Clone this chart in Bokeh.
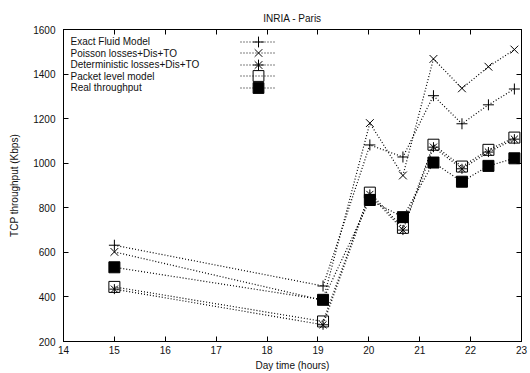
from bokeh.plotting import figure
from bokeh.models import Legend, LegendItem, Label, LinearAxis, FixedTicker
from bokeh.embed import file_html
from bokeh.resources import INLINE

# ---- data ----
hours = [15.0, 19.1, 20.02, 20.67, 21.27, 21.83, 22.35, 22.86]
exact_fluid = [632, 449, 1082, 1028, 1303, 1177, 1262, 1333]
poisson = [602, 385, 1180, 945, 1468, 1336, 1433, 1510]
deterministic = [435, 275, 860, 700, 1072, 975, 1050, 1108]
packet_level = [445, 290, 868, 710, 1083, 985, 1060, 1115]
real_throughput = [533, 387, 835, 758, 1003, 917, 988, 1022]

series_names = ["Exact Fluid Model", "Poisson losses+Dis+TO",
                "Deterministic losses+Dis+TO", "Packet level model", "Real throughput"]
x_ticks = list(range(14, 24))
y_ticks = list(range(200, 1601, 200))

FONT = "Liberation Sans"
FH = 312

p = figure(frame_width=458, frame_height=FH, x_range=(14, 23), y_range=(200, 1600),
           output_backend="svg", toolbar_location=None,
           min_border_left=63, min_border_right=9, min_border_top=29, min_border_bottom=32,
           title="INRIA - Paris")
p.title.text_font = FONT
p.title.text_font_size = "10px"
p.title.text_font_style = "normal"
p.title.align = "center"
p.title.text_color = "#111111"
p.title.standoff = 11

p.xgrid.visible = False
p.ygrid.visible = False
p.outline_line_color = "black"
p.outline_line_width = 1
p.background_fill_color = "white"

for ax in (p.xaxis[0], p.yaxis[0]):
    ax.major_tick_in = 5
    ax.major_tick_out = 0
    ax.minor_tick_line_color = None
    ax.major_label_text_font = FONT
    ax.major_label_text_font_size = "10px"
    ax.major_label_text_color = "#111111"
    ax.axis_label_text_font = FONT
    ax.axis_label_text_font_size = "10px"
    ax.axis_label_text_font_style = "normal"
    ax.axis_label_text_color = "#111111"
    ax.axis_line_color = "black"

p.xaxis[0].ticker = FixedTicker(ticks=x_ticks)
p.yaxis[0].ticker = FixedTicker(ticks=y_ticks)
p.xaxis[0].axis_label = "Day time (hours)"
p.yaxis[0].axis_label = "TCP throughput (Kbps)"
p.xaxis[0].major_label_standoff = 4
p.xaxis[0].axis_label_standoff = 3
p.yaxis[0].major_label_standoff = 8
p.yaxis[0].axis_label_standoff = 10

# mirrored ticks
top = LinearAxis(ticker=FixedTicker(ticks=x_ticks), major_tick_in=5, major_tick_out=0,
                 minor_tick_line_color=None, major_label_text_font_size="0px",
                 major_label_standoff=0, axis_line_color="black")
right = LinearAxis(ticker=FixedTicker(ticks=y_ticks), major_tick_in=5, major_tick_out=0,
                   minor_tick_line_color=None, major_label_text_font_size="0px",
                   major_label_standoff=0, axis_line_color="black")
p.add_layout(top, "above")
p.add_layout(right, "right")

dash = "1 2"
specs = [
    (exact_fluid, "cross", 11, None),
    (poisson, "x", 11, None),
    (deterministic, "asterisk", 10, None),
    (packet_level, "square", 11, None),
    (real_throughput, "square", 11, "black"),
]

GH = 27          # legend glyph box (marker drawn at 0.4 * GH)
PITCH = 11.5     # distance between legend rows
FIRST = 12       # px below frame top of first legend row centre

for i, (vals, marker, size, fill) in enumerate(specs):
    l = p.line(hours, vals, line_color="black", line_width=1.2, line_dash=dash)
    s = p.scatter(hours, vals, marker=marker, size=size, line_color="black",
                  line_width=1, fill_color=fill)
    row = FIRST + PITCH * i
    leg = Legend(items=[LegendItem(label=" ", renderers=[l, s])],
                 location=(177, FH - row - GH / 2),
                 glyph_width=36, glyph_height=GH, label_height=GH, spacing=0,
                 label_standoff=0, label_width=0, padding=0, margin=0,
                 label_text_font_size="1px", border_line_color=None,
                 background_fill_color=None)
    p.add_layout(leg, "center")
    p.add_layout(Label(x=7, y=FH - row, x_units="screen", y_units="screen",
                       text=series_names[i], text_font=FONT, text_font_size="10px",
                       text_color="#111111", text_baseline="middle", text_align="left"))

open("out.html", "w").write(file_html(p, INLINE))
